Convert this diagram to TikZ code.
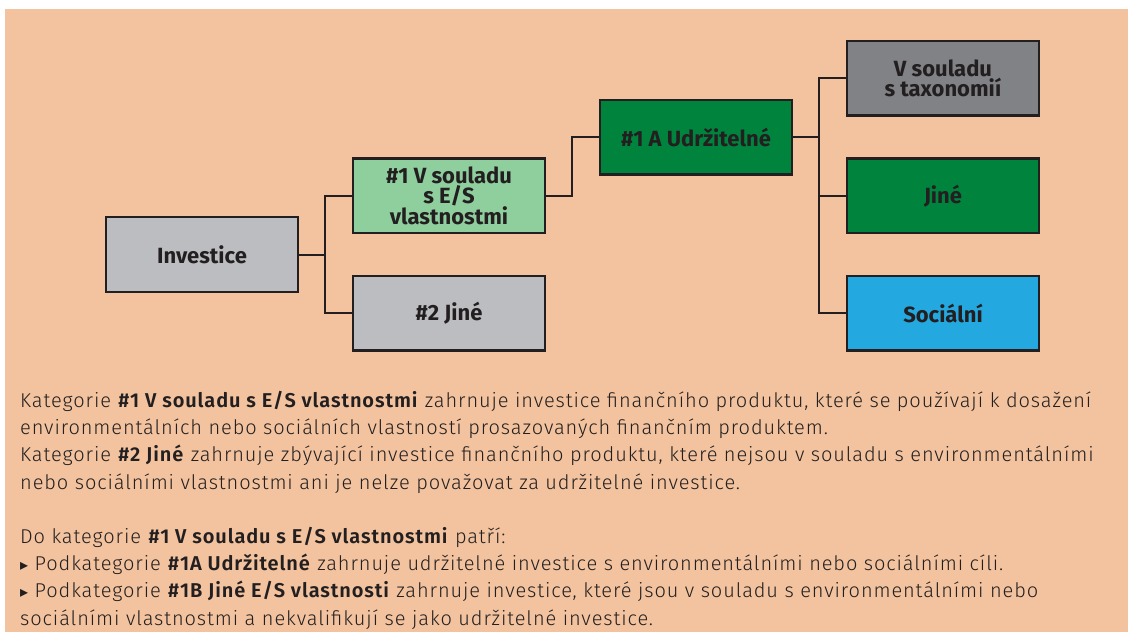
\documentclass[tikz,border=0pt]{standalone}
\usepackage{fontspec}
\setmainfont{Fira Sans Light}[BoldFont={Fira Sans SemiBold}, LetterSpace=4.5]
\newfontfamily\boxfont{Fira Sans Bold}
\newfontfamily\symfont{DejaVu Sans}
\usetikzlibrary{trees}

\definecolor{peach}{HTML}{F2C39E}
\definecolor{ink}{HTML}{231F20}
\definecolor{lightgrey}{HTML}{BCBDC0}
\definecolor{darkgrey}{HTML}{808285}
\definecolor{lightgreen}{HTML}{8FCE9D}
\definecolor{darkgreen}{HTML}{00843D}
\definecolor{skyblue}{HTML}{23A8E0}

\tikzset{
  box/.style={draw=ink, line width=2.4pt, minimum width=191.6pt, minimum height=74.6pt,
    inner sep=0pt, align=center, text=ink,
    font=\boxfont\fontsize{22pt}{20pt}\selectfont},
  bodytext/.style={inner sep=0pt, align=left, text=ink,
    font=\fontsize{20pt}{27.2pt}\selectfont},
}

\begin{document}
\begin{tikzpicture}[x=1pt, y=-1pt, grow'=right, level distance=247pt,
    sibling distance=117.5pt,
    edge from parent/.style={draw=ink, line width=2pt},
    edge from parent path={(\tikzparentnode.east) -- +(26pt,0) |- (\tikzchildnode.west)}]
  \useasboundingbox (0,0) rectangle (1128,632);
  \fill[white] (0,0) rectangle (1128,632);
  \fill[peach] (5,9) rectangle (1128,632);

  % tree of categories
  \node[box, fill=lightgrey] (investice) at (202,254.5) {Investice}
    child {node[box, fill=lightgreen] (soulad) {\#1 V souladu\\ s E/S\\ vlastnostmi}
      child[yshift=58.5pt] {node[box, fill=darkgreen] (udrzitelne) {\#1 A Udržitelné}
        child[yshift=-58.5pt] {node[box, fill=darkgrey] (taxonomie) {V souladu\\ s taxonomií}}
        child[yshift=-58.5pt] {node[box, fill=darkgreen] (jineES) {Jiné}}
        child[yshift=-58.5pt] {node[box, fill=skyblue] (socialni) {Sociální}}
      }
    }
    child {node[box, fill=lightgrey] (jine) {\#2 Jiné}};

  % explanation below (base = last line)
  \node[bodytext, anchor=base west] (popis) at (20,625) {%
    Kategorie \textbf{\#1 V souladu s E/S vlastnostmi} zahrnuje investice finančního produktu, které se používají k dosažení\\
    environmentálních nebo sociálních vlastností prosazovaných finančním produktem.\\
    Kategorie \textbf{\#2 Jiné} zahrnuje zbývající investice finančního produktu, které nejsou v souladu s environmentálními\\
    nebo sociálními vlastnostmi ani je nelze považovat za udržitelné investice.\\[27.2pt]
    Do kategorie \textbf{\#1 V souladu s E/S vlastnostmi} patří:\\
    {\symfont\fontsize{16pt}{27.2pt}\selectfont ▸} Podkategorie \textbf{\#1A Udržitelné} zahrnuje udržitelné investice s environmentálními nebo sociálními cíli.\\
    {\symfont\fontsize{16pt}{27.2pt}\selectfont ▸} Podkategorie \textbf{\#1B Jiné E/S vlastnosti} zahrnuje investice, které jsou v souladu s environmentálními nebo\\
    sociálními vlastnostmi a nekvalifikují se jako udržitelné investice.};
\end{tikzpicture}
\end{document}
